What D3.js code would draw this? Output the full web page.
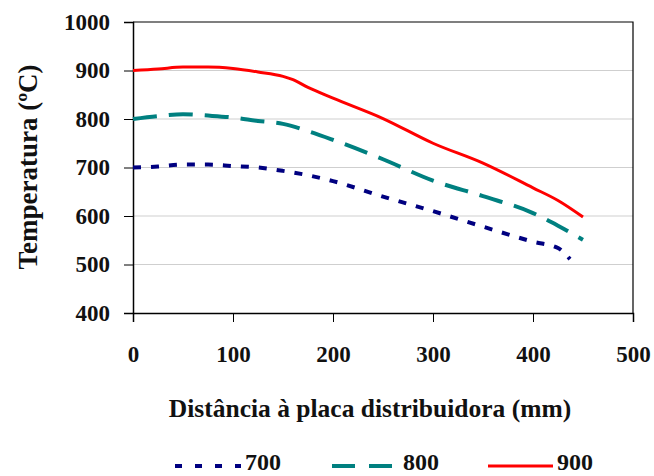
<!DOCTYPE html>
<html>
<head>
<meta charset="utf-8">
<script src="https://cdn.jsdelivr.net/npm/d3@7"></script>
<style>
  body { margin: 0; background: #fff; }
</style>
</head>
<body>
<div id="chart"></div>
<script>
// distancias (mm) e temperaturas (ºC)
const dist700 = [0, 25, 50, 75, 100, 125, 150, 175, 200, 250, 300, 350, 400, 425, 437]
const temp700 = [700, 702, 706, 706, 703, 700, 693, 684, 672, 640, 610, 578, 547, 534, 511]

const dist800 = [0, 25, 50, 75, 100, 125, 150, 175, 200, 250, 300, 350, 400, 425, 450]
const temp800 = [800, 806, 810, 807, 803, 796, 790, 775, 757, 717, 673, 641, 606, 580, 551]

const dist900 = [0, 25, 50, 75, 100, 125, 150, 160, 175, 200, 250, 300, 350, 400, 425, 450]
const temp900 = [900, 903, 907, 907, 904, 897, 888, 881, 865, 843, 801, 750, 709, 658, 632, 598]

const xTicks = [0, 100, 200, 300, 400, 500]
const yTicks = [400, 500, 600, 700, 800, 900, 1000]

const seriesNames = ['700', '800', '900']

var fontFam = "'Liberation Serif', 'Times New Roman', 'DejaVu Serif', serif"

var width = 654
var height = 476
var margin = { top: 22, right: 21, bottom: 163, left: 133 }

var svg = d3.select("#chart").append("svg")
    .attr("width", width)
    .attr("height", height)
    .style("font-family", fontFam)

var xScale = d3.scaleLinear()
    .domain([0, 500])
    .range([margin.left, width - margin.right])

var yScale = d3.scaleLinear()
    .domain([400, 1000])
    .range([height - margin.bottom, margin.top])

// linhas de grade
svg.append("g")
    .selectAll("line")
    .data(yTicks.slice(1, -1))
    .enter().append("line")
    .attr("x1", xScale(0))
    .attr("x2", xScale(500))
    .attr("y1", d => yScale(d))
    .attr("y2", d => yScale(d))
    .attr("stroke", "#cfcfcf")
    .attr("stroke-width", 1)

// moldura superior e direita
svg.append("path")
    .attr("d", "M" + xScale(0) + "," + yScale(1000) + "H" + xScale(500) + "V" + yScale(400))
    .attr("fill", "none")
    .attr("stroke", "#000")
    .attr("stroke-width", 1.2)

// eixo x
var xAxis = svg.append("g")
    .attr("transform", "translate(0," + yScale(400) + ")")
    .call(d3.axisBottom(xScale).tickValues(xTicks).tickFormat(d3.format("d")).tickSize(9).tickPadding(24))
xAxis.select(".domain").attr("stroke-width", 1.5)

// eixo y
var yAxis = svg.append("g")
    .attr("transform", "translate(" + xScale(0) + ",0)")
    .call(d3.axisLeft(yScale).tickValues(yTicks).tickFormat(d3.format("d")).tickSize(9).tickPadding(14))
yAxis.select(".domain").attr("stroke-width", 1.5)

svg.selectAll(".tick text")
    .style("font-family", fontFam)
    .style("font-size", "23px")
    .style("font-weight", "bold")
    .attr("fill", "#111")

var styles = [
    { color: "#000080", dash: "8,10", width: 4 },
    { color: "#008080", dash: "24,12", width: 4 },
    { color: "#ff0000", dash: null, width: 3 }
]

var allData = [
    d3.zip(dist700, temp700),
    d3.zip(dist800, temp800),
    d3.zip(dist900, temp900)
]

var line = d3.line()
    .x(d => xScale(d[0]))
    .y(d => yScale(d[1]))
    .curve(d3.curveMonotoneX)

svg.selectAll(".serie")
    .data(allData)
    .enter().append("path")
    .attr("class", "serie")
    .attr("d", line)
    .attr("fill", "none")
    .attr("stroke", (d, i) => styles[i].color)
    .attr("stroke-width", (d, i) => styles[i].width)
    .attr("stroke-dasharray", (d, i) => styles[i].dash)

// titulos dos eixos
svg.append("text")
    .attr("x", 370)
    .attr("y", 417)
    .attr("text-anchor", "middle")
    .style("font-family", fontFam)
    .style("font-weight", "bold")
    .style("font-size", "25.5px")
    .attr("fill", "#111")
    .text("Distância à placa distribuidora (mm)")

svg.append("text")
    .attr("transform", "translate(37,167) rotate(-90)")
    .attr("text-anchor", "middle")
    .style("font-family", fontFam)
    .style("font-weight", "bold")
    .style("font-size", "27px")
    .attr("fill", "#111")
    .text("Temperatura (ºC)")

// legenda
var legendX = [175, 332, 488]
var legendLen = [66, 60, 65]
var legend = svg.selectAll(".legenda")
    .data(seriesNames)
    .enter().append("g")
    .attr("class", "legenda")
    .attr("transform", (d, i) => "translate(" + legendX[i] + ",466)")

legend.append("line")
    .attr("x1", 0)
    .attr("x2", (d, i) => legendLen[i])
    .attr("y1", 0)
    .attr("y2", 0)
    .attr("stroke", (d, i) => styles[i].color)
    .attr("stroke-width", (d, i) => styles[i].width)
    .attr("stroke-dasharray", (d, i) => i == 0 ? "7,13" : i == 1 ? "23,14" : null)

legend.append("text")
    .attr("x", (d, i) => legendLen[i] + (i == 1 ? 11 : 4))
    .attr("y", 4)
    .style("font-family", fontFam)
    .style("font-weight", "bold")
    .style("font-size", "24px")
    .attr("fill", "#111")
    .text(d => d)
</script>
</body>
</html>
